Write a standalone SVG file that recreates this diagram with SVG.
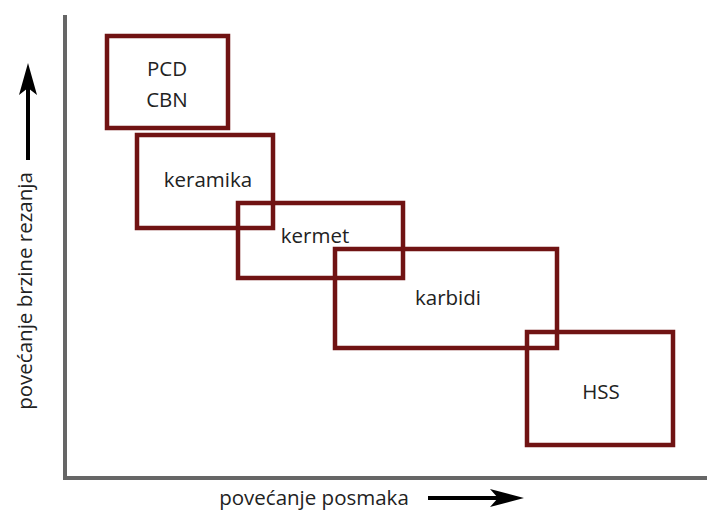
<svg xmlns="http://www.w3.org/2000/svg" width="707" height="515" viewBox="0 0 707 515">
<style>
.box{fill:none;stroke:#701313;stroke-width:4.5;stroke-linejoin:miter}
.t{font-family:"Open Sans","Liberation Sans",sans-serif;font-size:20.5px;fill:#222;text-anchor:middle}
.ax{fill:none;stroke:#666;stroke-width:4}
</style>
<rect width="707" height="515" fill="#fff"/>
<g id="axes">
<polyline class="ax" points="65,15 65,478 707,478"/>
</g>
<g id="pcd"><rect class="box" x="107" y="36" width="121" height="92"/><text class="t" x="167" y="76">PCD</text><text class="t" x="167" y="107">CBN</text></g>
<g id="keramika"><rect class="box" x="137" y="135" width="136" height="93"/><text class="t" x="208" y="187">keramika</text></g>
<g id="kermet"><rect class="box" x="238" y="203" width="165" height="75"/><text class="t" x="315" y="243">kermet</text></g>
<g id="karbidi"><rect class="box" x="335" y="249" width="222" height="99"/><text class="t" x="448" y="305">karbidi</text></g>
<g id="hss"><rect class="box" x="527" y="332" width="146" height="113"/><text class="t" x="601" y="399">HSS</text></g>
<g id="labels">
<text class="t" transform="translate(32,291) rotate(-90)">povećanje brzine rezanja</text>
<text class="t" x="314" y="505">povećanje posmaka</text>
</g>
<g id="connectors">
<line x1="28" y1="160" x2="28" y2="85" stroke="#000" stroke-width="4"/>
<polygon points="28,63 19,95 28,88 37,95" fill="#000"/>
<line x1="428" y1="498" x2="500" y2="498" stroke="#000" stroke-width="4"/>
<polygon points="524,498 490,489 498,498 490,507" fill="#000"/>
</g>
</svg>
